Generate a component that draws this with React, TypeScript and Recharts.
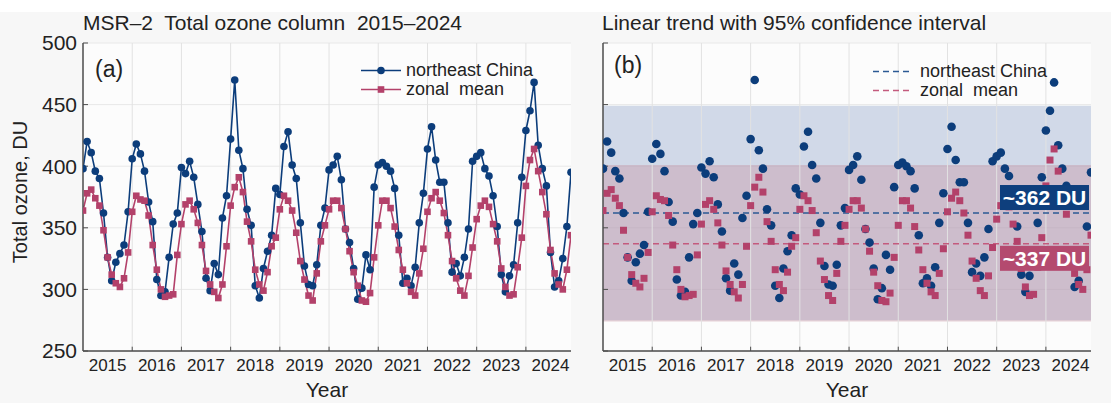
import { ComposedChart, Line, XAxis, YAxis, CartesianGrid, ReferenceLine, ReferenceArea } from 'recharts';

// Monthly total ozone (DU), Jan 2015 – Dec 2024
const YEAR_LABELS = ['2015', '2016', '2017', '2018', '2019', '2020', '2021', '2022', '2023', '2024'];

const NE_CHINA = [
  398, 420, 411, 396, 390, 362, 326, 307, 322, 329, 336, 363,
  406, 418, 410, 396, 371, 355, 308, 295, 298, 326, 353, 362,
  399, 394, 404, 391, 369, 347, 309, 299, 321, 312, 358, 376,
  422, 470, 413, 398, 365, 352, 303, 293, 317, 331, 344, 382,
  377, 416, 428, 401, 390, 354, 319, 304, 303, 320, 352, 366,
  397, 401, 408, 389, 349, 338, 317, 292, 301, 328, 316, 383,
  401, 403, 400, 396, 382, 344, 305, 309, 303, 318, 354, 378,
  414, 432, 405, 387, 387, 354, 314, 321, 311, 326, 349, 404,
  408, 411, 398, 392, 376, 351, 312, 298, 311, 320, 354, 391,
  429, 445, 468, 417, 398, 384, 330, 302, 307, 325, 351, 395,
];

const ZONAL_MEAN = [
  364, 378, 381, 374, 368, 348, 326, 312, 305, 302, 309, 330,
  363, 376, 373, 372, 360, 336, 316, 300, 294, 295, 296, 328,
  353, 369, 372, 365, 354, 336, 315, 304, 298, 293, 304, 335,
  368, 383, 391, 379, 355, 339, 316, 304, 299, 314, 335, 342,
  365, 376, 372, 364, 346, 323, 308, 295, 291, 313, 339, 352,
  365, 372, 372, 366, 349, 331, 314, 303, 291, 290, 297, 326,
  352, 372, 372, 366, 351, 332, 316, 305, 298, 295, 313, 333,
  363, 374, 379, 372, 362, 344, 323, 309, 299, 295, 311, 334,
  357, 368, 372, 367, 353, 339, 317, 302, 295, 296, 318, 342,
  384, 405, 414, 396, 379, 361, 332, 313, 304, 300, 316, 344,
];

const Y_TICKS = [250, 300, 350, 400, 450, 500];
const NE_TREND = 362;
const ZM_TREND = 337;
const NE_BAND = [275, 449];
const ZM_BAND = [274, 401];

const BLUE = '#0c3d7b';
const RED = '#b3416a';
const AXIS = '#4d4d4d';
const FONT = "'Liberation Sans', Arial, sans-serif";

const data = NE_CHINA.map((v, i) => ({ m: i, ne: v, zm: ZONAL_MEAN[i] }));
const LABEL_TICKS = YEAR_LABELS.map((_, k) => k * 12 + 6);
const YEAR_EDGES = YEAR_LABELS.slice(1).map((_, k) => (k + 1) * 12);
const LAST = NE_CHINA.length - 1;

const square = (size: number) => (p: any) => (
  <rect key={`sq-${p.index}`} x={p.cx - size / 2} y={p.cy - size / 2} width={size} height={size} fill={RED} />
);

const circle = (r: number) => (p: any) => (
  <circle key={`c-${p.index}`} cx={p.cx} cy={p.cy} r={r} fill={BLUE} />
);

const TrendTag = ({ viewBox, text, fill, above }: any) => {
  const w = 89;
  const h = 25;
  const x = viewBox.x + viewBox.width - w - 2;
  const y = above ? viewBox.y - h - 3 : viewBox.y + 2;
  return (
    <g>
      <rect x={x} y={y} width={w} height={h} fill={fill} />
      <text x={x + w / 2} y={y + h / 2} dy="0.36em" textAnchor="middle" fill="#fff"
        fontWeight="bold" fontSize={21} fontFamily={FONT}>{text}</text>
    </g>
  );
};

function LegendRow({ color, marker, dashed, label, gap }: any) {
  return (
    <div style={{ display: 'flex', alignItems: 'center', height: 19 }}>
      <svg width={44} height={19}>
        <line x1={1} x2={41} y1={9.5} y2={9.5} stroke={color} strokeWidth={1.6}
          strokeDasharray={dashed ? '6 4' : undefined} />
        {marker === 'circle' && <circle cx={21} cy={9.5} r={3.8} fill={color} />}
        {marker === 'square' && <rect x={17.7} y={6.2} width={6.6} height={6.6} fill={color} />}
      </svg>
      <span style={{ marginLeft: gap, fontSize: 18, color: '#222', whiteSpace: 'pre' }}>{label}</span>
    </div>
  );
}

function Panel({ scatter }: { scatter: boolean }) {
  return (
    <ComposedChart width={600} height={403} data={data}
      margin={{ top: 43, right: 29, bottom: 22, left: 33 }}>
      <CartesianGrid vertical={false} stroke="#e8e8e8" fill="#fcfcfc" />
      {scatter && (
        <ReferenceArea y1={NE_BAND[0]} y2={NE_BAND[1]} fill="rgb(150,170,205)" fillOpacity={0.42} stroke="none" />
      )}
      {scatter && (
        <ReferenceArea y1={ZM_BAND[0]} y2={ZM_BAND[1]} fill="rgb(200,150,165)" fillOpacity={0.42} stroke="none" />
      )}
      {YEAR_EDGES.map((e) => (
        <ReferenceLine key={`g${e}`} x={e} stroke="#e2e2e2" strokeWidth={1} />
      ))}
      {YEAR_EDGES.map((e) => (
        <ReferenceLine key={`t${e}`} segment={[{ x: e, y: 250 }, { x: e, y: 253.5 }]} stroke={AXIS} strokeWidth={1} />
      ))}
      <XAxis dataKey="m" type="number" domain={[0, LAST]} ticks={LABEL_TICKS}
        tickFormatter={(m: number) => YEAR_LABELS[Math.floor(m / 12)]}
        tickLine={false} height={30} allowDataOverflow
        axisLine={{ stroke: AXIS, strokeWidth: 1.5 }}
        tick={{ fill: '#222', fontSize: 17, fontFamily: FONT }} />
      <XAxis xAxisId="top" orientation="top" type="number" domain={[0, LAST]} height={0}
        tick={false} tickLine={false} axisLine={{ stroke: AXIS, strokeWidth: 1.5 }} />
      <YAxis domain={[250, 500]} ticks={Y_TICKS} width={50} tickSize={-5} tickMargin={11}
        axisLine={{ stroke: AXIS, strokeWidth: 1.5 }} tickLine={{ stroke: AXIS }}
        tick={scatter ? () => <g /> : { fill: '#222', fontSize: 21, fontFamily: FONT }} />
      <YAxis yAxisId="right" orientation="right" domain={[250, 500]} width={0}
        tick={false} tickLine={false} axisLine={{ stroke: AXIS, strokeWidth: 1.5 }} />
      {scatter && (
        <ReferenceLine y={NE_TREND} stroke="#2b5994" strokeWidth={1.5} strokeDasharray="6 4" />
      )}
      {scatter && (
        <ReferenceLine y={ZM_TREND} stroke="#c45a7d" strokeWidth={1.5} strokeDasharray="6 4" />
      )}
      <Line dataKey="ne" stroke={scatter ? 'none' : BLUE} strokeWidth={1.6}
        dot={circle(scatter ? 4.3 : 3.8)} activeDot={false} isAnimationActive={false} />
      <Line dataKey="zm" stroke={scatter ? 'none' : RED} strokeWidth={1.6}
        dot={square(scatter ? 7 : 6.6)} activeDot={false} isAnimationActive={false} />
    </ComposedChart>
  );
}

// Transparent chart with the same scales, drawn on top so the tags cover the markers
function TagLayer() {
  return (
    <ComposedChart width={600} height={403} data={data}
      margin={{ top: 43, right: 29, bottom: 22, left: 33 }}>
      <XAxis dataKey="m" type="number" domain={[0, LAST]} height={30} tick={false} tickLine={false} axisLine={false} />
      <YAxis domain={[250, 500]} width={50} tick={false} tickLine={false} axisLine={false} />
      <Line dataKey="ne" stroke="none" dot={false} activeDot={false} isAnimationActive={false} />
      <ReferenceLine y={NE_TREND} stroke="none"
        label={(p: any) => <TrendTag {...p} text="~362 DU" fill="#0e3f7d" above />} />
      <ReferenceLine y={ZM_TREND} stroke="none"
        label={(p: any) => <TrendTag {...p} text="~337 DU" fill="#b44a6f" above={false} />} />
    </ComposedChart>
  );
}

export default function App() {
  const text = { position: 'absolute' as const, color: '#222', whiteSpace: 'pre' as const };
  return (
    <div style={{
      position: 'relative', width: 1111, height: 403, overflow: 'hidden', fontFamily: FONT,
      background: 'linear-gradient(#ffffff 0px, #ffffff 12px, #f7f7f7 12px)',
    }}>
      <style>{'body{margin:0}'}</style>
      <div style={{ position: 'absolute', left: 0, top: 0 }}><Panel scatter={false} /></div>
      <div style={{ position: 'absolute', left: 520, top: 0 }}><Panel scatter /></div>
      <div style={{ position: 'absolute', left: 520, top: 0, pointerEvents: 'none' }}><TagLayer /></div>

      <div style={{ ...text, left: 83, top: 11, fontSize: 21 }}>MSR–2  Total ozone column  2015–2024</div>
      <div style={{ ...text, left: 602, top: 11, fontSize: 21 }}>Linear trend with 95% confidence interval</div>
      <div style={{ ...text, left: 95, top: 56, fontSize: 23 }}>(a)</div>
      <div style={{ ...text, left: 614, top: 52, fontSize: 23 }}>(b)</div>
      <div style={{ ...text, left: 327, top: 378, fontSize: 21, transform: 'translateX(-50%)' }}>Year</div>
      <div style={{ ...text, left: 847, top: 378, fontSize: 21, transform: 'translateX(-50%)' }}>Year</div>
      <div style={{
        ...text, left: 20, top: 192, fontSize: 20,
        transform: 'translate(-50%, -50%) rotate(-90deg)',
      }}>Total ozone, DU</div>

      <div style={{ position: 'absolute', left: 360, top: 61 }}>
        <LegendRow color={BLUE} marker="circle" label="northeast China" gap={2} />
        <LegendRow color={RED} marker="square" label="zonal  mean" gap={2} />
      </div>
      <div style={{ position: 'absolute', left: 872, top: 62 }}>
        <LegendRow color="#2b5994" dashed label="northeast China" gap={4} />
        <LegendRow color="#c45a7d" dashed label="zonal  mean" gap={4} />
      </div>
    </div>
  );
}
